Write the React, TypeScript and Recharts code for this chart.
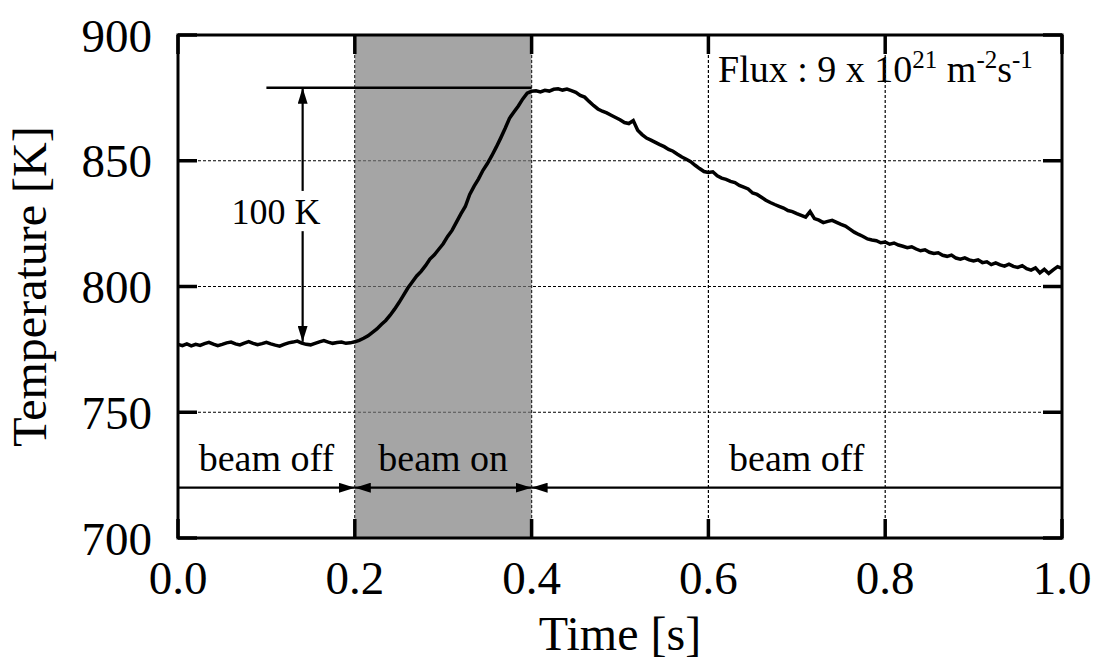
import {
  LineChart,
  Line,
  XAxis,
  YAxis,
  CartesianGrid,
  ReferenceArea,
  ReferenceLine,
  ReferenceDot,
} from 'recharts';

const SAMPLE_STEP = 0.005;

// 0.000 - 0.200 s : beam off
const TEMP_BEFORE = [
  777.0, 776.5, 777.2, 776.4, 777.0, 776.6, 777.3, 777.8, 777.1, 776.5,
  777.0, 777.6, 777.9, 777.2, 776.8, 777.5, 778.1, 777.4, 776.9, 777.3,
  777.8, 777.2, 776.7, 776.3, 777.0, 777.6, 777.9, 778.3, 777.5, 777.0,
  776.8, 777.4, 778.0, 778.5, 777.9, 777.4, 777.7, 777.9, 777.4, 777.6,
  778.0,
];

// 0.205 - 0.400 s : beam on
const TEMP_BEAM = [
  778.6, 779.4, 780.4, 781.8, 783.1, 784.9, 786.5, 788.6, 791.0, 793.6,
  796.5, 799.4, 801.8, 804.2, 806.0, 808.3, 810.9, 812.6, 814.8, 817.0,
  819.9, 822.3, 825.6, 828.9, 831.8, 836.6, 839.9, 842.8, 846.2, 848.9,
  852.0, 855.4, 859.0, 862.8, 866.9, 869.4, 871.8, 874.6, 876.9, 877.6,
];

// 0.405 - 1.000 s : beam off again, cooling
const TEMP_AFTER = [
  877.8, 877.4, 878.0, 877.7, 878.4, 878.6, 878.1, 878.5, 877.9, 877.2,
  876.0, 875.3, 873.6, 872.0, 870.6, 869.7, 869.0, 868.1, 867.2, 866.3,
  865.2, 864.8, 866.0, 862.1, 860.4, 859.0, 858.2, 857.3, 856.4, 855.6,
  854.5, 853.8, 852.6, 851.5, 850.6, 849.6, 848.2, 846.9, 845.7, 845.3,
  845.6, 844.0, 843.1, 842.6, 841.8, 841.3, 840.2, 839.5, 838.8, 837.2,
  836.6, 835.5, 834.3, 833.4, 832.6, 831.9, 831.2, 830.2, 829.8, 829.0,
  828.3, 827.6, 829.8, 827.0, 826.4, 825.4, 825.9, 826.3, 825.5, 824.7,
  824.0, 822.8, 821.6, 820.7, 819.9, 818.9, 818.5, 818.2, 817.4, 817.7,
  816.8, 817.3, 816.5, 816.0, 815.4, 815.8, 814.9, 814.2, 814.6, 813.6,
  813.1, 813.4, 812.4, 812.0, 812.5, 811.3, 810.9, 811.4, 810.6, 810.2,
  810.6, 809.5, 809.8, 808.7, 809.4, 808.6, 808.1, 808.9, 808.0, 807.6,
  808.3, 807.1, 806.5, 807.4, 805.4, 806.8, 805.2, 806.6, 807.9, 807.2,
];

const X_TICKS = [0, 0.2, 0.4, 0.6, 0.8, 1.0];
const Y_TICKS = [700, 750, 800, 850, 900];

// beam-on window
const BEAM_START = 0.2;
const BEAM_END = 0.4;

// "100 K" rise annotation
const RISE_BASE = 778;
const RISE_TOP = 879;
const RISE_X = 0.141;
const RISE_LINE_FROM = 0.1;
const RISE_GAP = [822, 838];

// phase arrows along the bottom
const PHASE_LEVEL = 720;
const PHASE_LABEL_LEVEL = 732;
const PHASES = [
  { label: 'beam off', from: 0, to: BEAM_START },
  { label: 'beam on', from: BEAM_START, to: BEAM_END },
  { label: 'beam off', from: BEAM_END, to: 1 },
];

const W = 1096;
const H = 664;
const Y_AXIS_W = 178;
const X_AXIS_H = 126;
const MARGIN = { top: 35, right: 34, bottom: 0, left: 0 };
const PLOT_LEFT = MARGIN.left + Y_AXIS_W;
const PLOT_RIGHT = W - MARGIN.right;
const PLOT_TOP = MARGIN.top;
const PLOT_BOTTOM = H - MARGIN.bottom - X_AXIS_H;
const TICK_LEN = 19;

const FONT = '"Liberation Serif", "Times New Roman", serif';

const data = [...TEMP_BEFORE, ...TEMP_BEAM, ...TEMP_AFTER].map((temp, i) => ({
  t: i * SAMPLE_STEP,
  temp,
}));

const XTick = (props: any) => {
  const { x, y, payload } = props;
  return (
    <g>
      <line x1={x} x2={x} y1={PLOT_BOTTOM} y2={PLOT_BOTTOM - TICK_LEN} stroke="#000" strokeWidth={3.5} />
      <line x1={x} x2={x} y1={PLOT_TOP} y2={PLOT_TOP + TICK_LEN} stroke="#000" strokeWidth={3.5} />
      <text x={x} y={y} dy="0.71em" textAnchor="middle" fontSize={47} fontFamily={FONT} fill="#000">
        {Number(payload.value).toFixed(1)}
      </text>
    </g>
  );
};

const YTick = (props: any) => {
  const { x, y, payload } = props;
  return (
    <g>
      <line x1={PLOT_LEFT} x2={PLOT_LEFT + TICK_LEN} y1={y} y2={y} stroke="#000" strokeWidth={3.5} />
      <line x1={PLOT_RIGHT - TICK_LEN} x2={PLOT_RIGHT} y1={y} y2={y} stroke="#000" strokeWidth={3.5} />
      <text x={x} y={y} dy="0.355em" textAnchor="end" fontSize={47} fontFamily={FONT} fill="#000">
        {payload.value}
      </text>
    </g>
  );
};

const arrowLine = (start: boolean, end: boolean) => (p: any) => (
  <line
    x1={p.x1}
    y1={p.y1}
    x2={p.x2}
    y2={p.y2}
    stroke="#000"
    strokeWidth={2.2}
    markerStart={start ? 'url(#arrowhead)' : undefined}
    markerEnd={end ? 'url(#arrowhead)' : undefined}
  />
);

const FluxLabel = (props: any) => {
  const { x, y } = props.viewBox;
  return (
    <text x={x} y={y} fontSize={38} fontFamily={FONT} fill="#000">
      Flux : 9 x 10
      <tspan dy={-14} fontSize={25}>21</tspan>
      <tspan dy={14}> m</tspan>
      <tspan dy={-14} fontSize={25}>-2</tspan>
      <tspan dy={14}>s</tspan>
      <tspan dy={-14} fontSize={25}>-1</tspan>
    </text>
  );
};

export default function App() {
  return (
    <div style={{ position: 'fixed', left: 0, top: 0, width: W, height: H, background: '#fff' }}>
      <svg width={0} height={0} style={{ position: 'absolute' }}>
        <defs>
          <marker
            id="arrowhead"
            viewBox="0 0 16 10"
            refX={16}
            refY={5}
            markerWidth={16}
            markerHeight={10}
            markerUnits="userSpaceOnUse"
            orient="auto-start-reverse"
          >
            <path d="M0,0 L16,5 L0,10 z" fill="#000" />
          </marker>
        </defs>
      </svg>
      <LineChart width={W} height={H} data={data} margin={MARGIN}>
        <CartesianGrid stroke="#000" strokeDasharray="3 2" strokeWidth={1.2} />
        <ReferenceArea
          x1={BEAM_START}
          x2={BEAM_END}
          y1={700}
          y2={900}
          fill="#7a7a7a"
          fillOpacity={0.68}
          stroke="none"
        />
        <XAxis
          dataKey="t"
          type="number"
          domain={[0, 1]}
          ticks={X_TICKS}
          tickSize={0}
          tickMargin={23}
          tickLine={false}
          axisLine={false}
          tick={XTick}
          height={X_AXIS_H}
          label={{ value: 'Time [s]', position: 'insideBottom', offset: 14, fontSize: 48, fontFamily: FONT, fill: '#000' }}
        />
        <YAxis
          type="number"
          domain={[700, 900]}
          ticks={Y_TICKS}
          tickSize={0}
          tickMargin={26}
          tickLine={false}
          axisLine={false}
          tick={YTick}
          width={Y_AXIS_W}
          label={{
            value: 'Temperature [K]',
            angle: -90,
            position: 'insideLeft',
            offset: 29,
            fontSize: 48,
            fontFamily: FONT,
            fill: '#000',
            style: { textAnchor: 'middle' },
          }}
        />

        {/* 100 K rise marker */}
        <ReferenceLine
          segment={[{ x: RISE_LINE_FROM, y: RISE_TOP }, { x: BEAM_END, y: RISE_TOP }]}
          stroke="#000"
          strokeWidth={2.5}
        />
        <ReferenceLine
          segment={[{ x: RISE_X, y: RISE_GAP[1] }, { x: RISE_X, y: RISE_TOP }]}
          shape={arrowLine(false, true)}
        />
        <ReferenceLine
          segment={[{ x: RISE_X, y: RISE_GAP[0] }, { x: RISE_X, y: RISE_BASE }]}
          shape={arrowLine(false, true)}
        />
        <ReferenceDot
          x={0.111}
          y={(RISE_GAP[0] + RISE_GAP[1]) / 2}
          r={0}
          fill="none"
          stroke="none"
          label={{ value: '100 K', position: 'center', fontSize: 36, fontFamily: FONT, fill: '#000' }}
        />

        {/* phase arrows */}
        {PHASES.map((ph, i) => (
          <ReferenceLine
            key={`ph-${i}`}
            segment={[{ x: ph.from, y: PHASE_LEVEL }, { x: ph.to, y: PHASE_LEVEL }]}
            shape={arrowLine(i > 0, i < PHASES.length - 1)}
          />
        ))}
        {PHASES.map((ph, i) => (
          <ReferenceDot
            key={`pl-${i}`}
            x={(ph.from + ph.to) / 2}
            y={PHASE_LABEL_LEVEL}
            r={0}
            fill="none"
            stroke="none"
            label={{ value: ph.label, position: 'center', fontSize: 38, fontFamily: FONT, fill: '#000' }}
          />
        ))}

        <ReferenceDot
          x={0.611}
          y={881.4}
          r={0}
          fill="none"
          stroke="none"
          label={{ content: (p: any) => <FluxLabel {...p} /> }}
        />

        <Line
          dataKey="temp"
          type="linear"
          stroke="#000"
          strokeWidth={3.5}
          dot={false}
          isAnimationActive={false}
        />

        {/* frame */}
        <ReferenceArea x1={0} x2={1} y1={700} y2={900} fill="none" stroke="#000" strokeWidth={3} />
      </LineChart>
    </div>
  );
}
